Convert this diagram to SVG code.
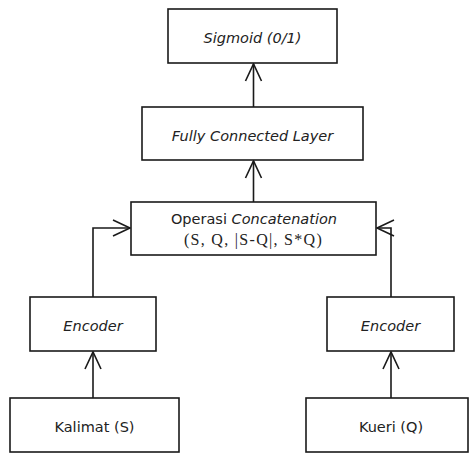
<svg xmlns="http://www.w3.org/2000/svg" width="469" height="453" viewBox="0 0 469 453">
<defs>
<style>
.box{fill:#fff;stroke:#1a1a1a;stroke-width:1.6}
.t{font-family:"DejaVu Sans","Open Sans",sans-serif;font-size:14.5px;fill:#222;text-anchor:middle}
.i{font-style:italic}
.s{font-family:"Liberation Serif",serif;font-size:16px;letter-spacing:1.3px;fill:#222;text-anchor:middle}
.c{fill:none;stroke:#1a1a1a;stroke-width:1.6}
</style>
<marker id="ah" markerUnits="userSpaceOnUse" markerWidth="20" markerHeight="20" viewBox="-18 -10 20 20" refX="0" refY="0" orient="auto">
<polyline points="-17,-8 0,0 -17,8" fill="none" stroke="#1a1a1a" stroke-width="1.6"/>
</marker>
</defs>
<g id="connectors">
<line class="c" x1="253.5" y1="107" x2="253.5" y2="64" marker-end="url(#ah)"/>
<line class="c" x1="253.5" y1="202" x2="253.5" y2="161" marker-end="url(#ah)"/>
<polyline class="c" points="93,297 93,228 130,228" marker-end="url(#ah)"/>
<polyline class="c" points="391,297 391,228 377,228" marker-end="url(#ah)"/>
<line class="c" x1="93" y1="398" x2="93" y2="352" marker-end="url(#ah)"/>
<line class="c" x1="391" y1="398" x2="391" y2="352" marker-end="url(#ah)"/>
</g>
<g id="sigmoid">
<rect class="box" x="168" y="9" width="169" height="54"/>
<text class="t i" x="252.5" y="43">Sigmoid (0/1)</text>
</g>
<g id="fc">
<rect class="box" x="142" y="107" width="221" height="53"/>
<text class="t i" x="252.5" y="141">Fully Connected Layer</text>
</g>
<g id="concat">
<rect class="box" x="131" y="202" width="245" height="53"/>
<text class="t" x="254" y="224">Operasi <tspan class="i">Concatenation</tspan></text>
<text class="s" x="253.5" y="245">(S, Q, |S-Q|, S*Q)</text>
</g>
<g id="enc-left">
<rect class="box" x="30" y="297" width="126" height="54"/>
<text class="t i" x="93" y="331">Encoder</text>
</g>
<g id="enc-right">
<rect class="box" x="327" y="297" width="127" height="54"/>
<text class="t i" x="390.5" y="331">Encoder</text>
</g>
<g id="kalimat">
<rect class="box" x="10" y="398" width="169" height="54"/>
<text class="t" x="94.5" y="432">Kalimat (S)</text>
</g>
<g id="kueri">
<rect class="box" x="306" y="398" width="162" height="54"/>
<text class="t" x="391" y="432">Kueri (Q)</text>
</g>
</svg>
